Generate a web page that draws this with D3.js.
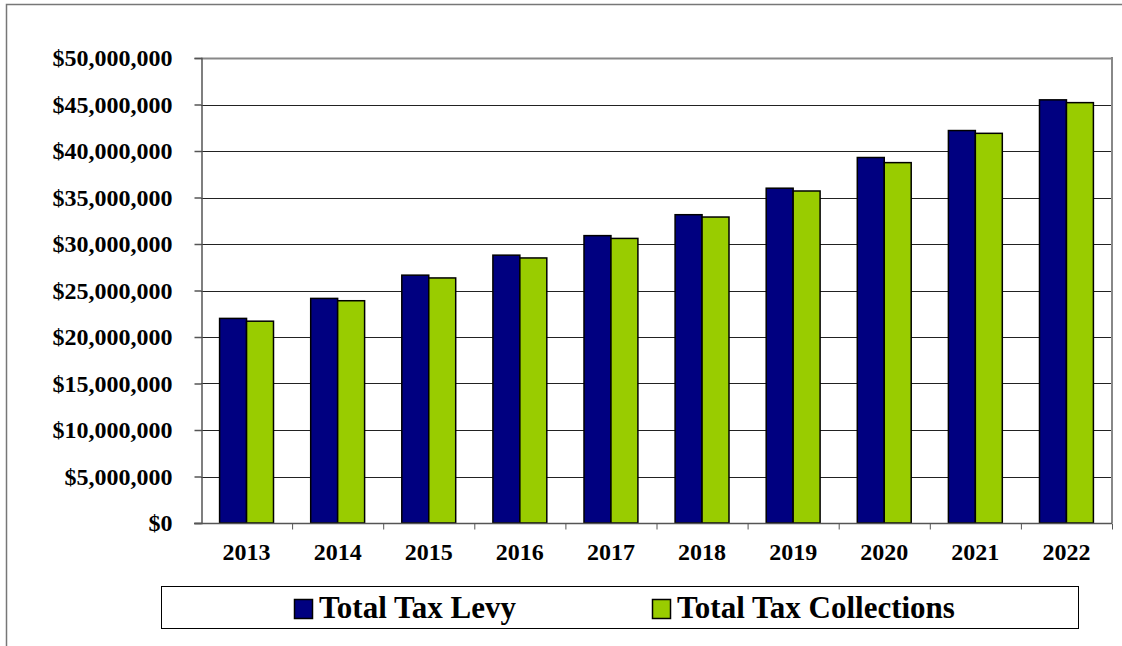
<!DOCTYPE html>
<html>
<head>
<meta charset="utf-8">
<script src="https://cdn.jsdelivr.net/npm/d3@7"></script>
<style>
  body { margin: 0; background: #fff; }
  text { font-family: "Liberation Serif", "Times New Roman", serif; font-weight: bold; fill: #000; }
</style>
</head>
<body>
<div id="chart"></div>
<script>
// data
var years = ['2013', '2014', '2015', '2016', '2017', '2018', '2019', '2020', '2021', '2022'];
var levy = [22000000, 24150000, 26650000, 28800000, 30900000, 33150000, 36000000, 39300000, 42200000, 45500000];
var collections = [21700000, 23900000, 26350000, 28500000, 30600000, 32900000, 35700000, 38750000, 41900000, 45200000];
var seriesNames = ['Total Tax Levy', 'Total Tax Collections'];
var seriesColors = ['#000080', '#99CC00'];
var yTicks = [0, 5000000, 10000000, 15000000, 20000000, 25000000, 30000000, 35000000, 40000000, 45000000, 50000000];

var width = 1122, height = 646;
var plotLeft = 201, plotRight = 1112, plotTop = 58, plotBottom = 523;

var svg = d3.select('#chart')
    .append('svg')
        .attr('width', width)
        .attr('height', height)
;

// outer frame
svg.append('path')
    .attr('d', 'M6.5,' + height + 'V4.5H' + width)
    .attr('fill', 'none')
    .attr('stroke', '#777')
    .attr('stroke-width', 1.5)
;

var x = d3.scaleBand()
    .domain(years)
    .range([plotLeft, plotRight])
;

var xs = d3.scaleBand()
    .domain([0, 1])
    .range([0, x.bandwidth()])
    .paddingOuter(0.69)
;

var y = d3.scaleLinear()
    .domain([0, 50000000])
    .range([plotBottom, plotTop])
;

// gridlines
svg.append('g')
    .selectAll('line')
    .data(yTicks.slice(1))
    .enter().append('line')
        .attr('x1', plotLeft)
        .attr('x2', plotRight)
        .attr('y1', function(d) { return Math.round(y(d)) + 0.5 })
        .attr('y2', function(d) { return Math.round(y(d)) + 0.5 })
        .attr('stroke', function(d) { return d == 50000000 ? '#888' : '#222' })
        .attr('stroke-width', function(d) { return d == 50000000 ? 2 : 1 })
;

// plot right border
svg.append('line')
    .attr('x1', plotRight).attr('x2', plotRight)
    .attr('y1', plotTop - 1).attr('y2', plotBottom)
    .attr('stroke', '#888')
    .attr('stroke-width', 2)
;

// bars
var groups = svg.append('g')
    .selectAll('g')
    .data(years)
    .enter().append('g')
        .attr('transform', function(d) { return 'translate(' + x(d) + ',0)' })
;

groups.selectAll('rect')
    .data(function(d, i) { return [levy[i], collections[i]] })
    .enter().append('rect')
        .attr('x', function(d, j) { return xs(j) })
        .attr('y', function(d) { return y(d) })
        .attr('width', xs.bandwidth())
        .attr('height', function(d) { return plotBottom - y(d) })
        .attr('fill', function(d, j) { return seriesColors[j] })
        .attr('stroke', '#000')
        .attr('stroke-width', 1.5)
;

// y axis
var yAxis = svg.append('g')
    .attr('transform', 'translate(' + (plotLeft + 0.5) + ',0)')
    .call(d3.axisLeft(y).tickValues(yTicks).tickFormat(d3.format('$,')).tickSize(7).tickPadding(22))
;
yAxis.selectAll('text').style('font-size', '24px');
yAxis.selectAll('line, path').attr('stroke', '#555').attr('stroke-width', 1.5);

// x axis
var xAxis = svg.append('g')
    .attr('transform', 'translate(0,' + (plotBottom + 0.5) + ')')
;
xAxis.append('line')
    .attr('x1', plotLeft - 7).attr('x2', plotRight)
    .attr('stroke', '#555').attr('stroke-width', 1.5)
;
xAxis.selectAll('.tick')
    .data(years)
    .enter().append('line')
        .attr('x1', function(d) { return x(d) + x.bandwidth() + 0.5 })
        .attr('x2', function(d) { return x(d) + x.bandwidth() + 0.5 })
        .attr('y1', 0).attr('y2', 6)
        .attr('stroke', '#555')
;
xAxis.selectAll('text')
    .data(years)
    .enter().append('text')
        .attr('x', function(d) { return x(d) + x.bandwidth() / 2 })
        .attr('y', 36)
        .attr('text-anchor', 'middle')
        .style('font-size', '24px')
        .text(function(d) { return d })
;

// legend
var legend = svg.append('g');
legend.append('rect')
    .attr('x', 161.5).attr('y', 586.5)
    .attr('width', 917).attr('height', 42)
    .attr('fill', '#fff')
    .attr('stroke', '#000')
;
var legendX = [294.5, 652.5];
var items = legend.selectAll('g.item')
    .data(seriesNames)
    .enter().append('g')
        .attr('class', 'item')
        .attr('transform', function(d, i) { return 'translate(' + legendX[i] + ',599.5)' })
;
items.append('rect')
    .attr('width', 18).attr('height', 19)
    .attr('fill', function(d, i) { return seriesColors[i] })
    .attr('stroke', '#000')
    .attr('stroke-width', 1.5)
;
items.append('text')
    .attr('x', 24.5)
    .attr('y', 18)
    .style('font-size', '31px')
    .text(function(d) { return d })
;
</script>
</body>
</html>
